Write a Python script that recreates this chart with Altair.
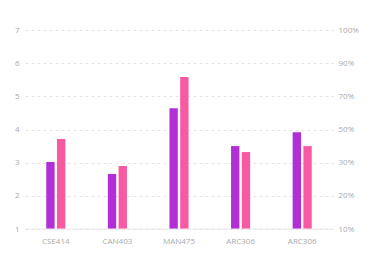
import altair as alt
import pandas as pd

courses = ["CSE414", "CAN403", "MAN475", "ARC306", "ARC306"]
series_a = [3.02, 2.66, 4.64, 3.50, 3.92]
series_b = [3.71, 2.90, 5.58, 3.32, 3.50]
left_ticks = [1, 2, 3, 4, 5, 6, 7]
right_labels = ["10%", "20%", "30%", "50%", "70%", "90%", "100%"]

colors = ["#b22fd8", "#f85aa2"]

rows = []
for i, c in enumerate(courses):
    rows.append({"key": str(i), "course": c, "series": "a", "value": series_a[i]})
    rows.append({"key": str(i), "course": c, "series": "b", "value": series_b[i]})
df = pd.DataFrame(rows)

course_expr = "[" + ",".join("'%s'" % c for c in courses) + "][toNumber(datum.value)]"
right_expr = "[" + ",".join("'%s'" % l for l in right_labels) + "][datum.value-1]"

label_color = "#aaaaaa"
font = "Open Sans"

x_enc = alt.X(
    "key:N",
    sort=[str(i) for i in range(len(courses))],
    scale=alt.Scale(paddingInner=0.69, paddingOuter=0.345),
    axis=alt.Axis(
        title=None, labelExpr=course_expr, labelAngle=0, ticks=False, domain=False,
        labelColor=label_color, labelFont=font, labelFontSize=8, labelPadding=8,
    ),
)

y_scale = alt.Scale(domain=[1, 7], zero=False, nice=False)

bars = alt.Chart(df).mark_bar().encode(
    x=x_enc,
    xOffset=alt.XOffset("series:N", scale=alt.Scale(paddingInner=0.22)),
    y=alt.Y(
        "value:Q", scale=y_scale,
        axis=alt.Axis(
            title=None, values=left_ticks, ticks=False, domain=False,
            labelColor=label_color, labelFont=font, labelFontSize=8, labelPadding=6,
            grid=True, gridDash=[3, 3], gridColor="#e4e4e4",
        ),
    ),
    y2=alt.datum(1),
    color=alt.Color("series:N", scale=alt.Scale(domain=["a", "b"], range=colors), legend=None),
)

base_line = alt.Chart(pd.DataFrame({"v": [1]})).mark_rule(color="#e8e8e8", strokeWidth=1).encode(
    y=alt.Y("v:Q", scale=y_scale, axis=None)
)

right = alt.Chart(pd.DataFrame({"v": left_ticks})).mark_point(opacity=0).encode(
    y=alt.Y(
        "v:Q", scale=y_scale,
        axis=alt.Axis(
            title=None, orient="right", values=left_ticks, labelExpr=right_expr,
            ticks=False, domain=False, grid=False,
            labelColor=label_color, labelFont=font, labelFontSize=8, labelPadding=5,
        ),
    )
)

chart = alt.layer(bars, base_line, right).resolve_scale(y="independent").properties(
    width=308, height=199,
    autosize=alt.AutoSizeParams(type="none"),
    padding={"left": 17, "top": 22, "right": 42, "bottom": 22},
).configure_view(stroke=None)

chart.save("out.html", embed_options={"renderer": "svg", "actions": False})
